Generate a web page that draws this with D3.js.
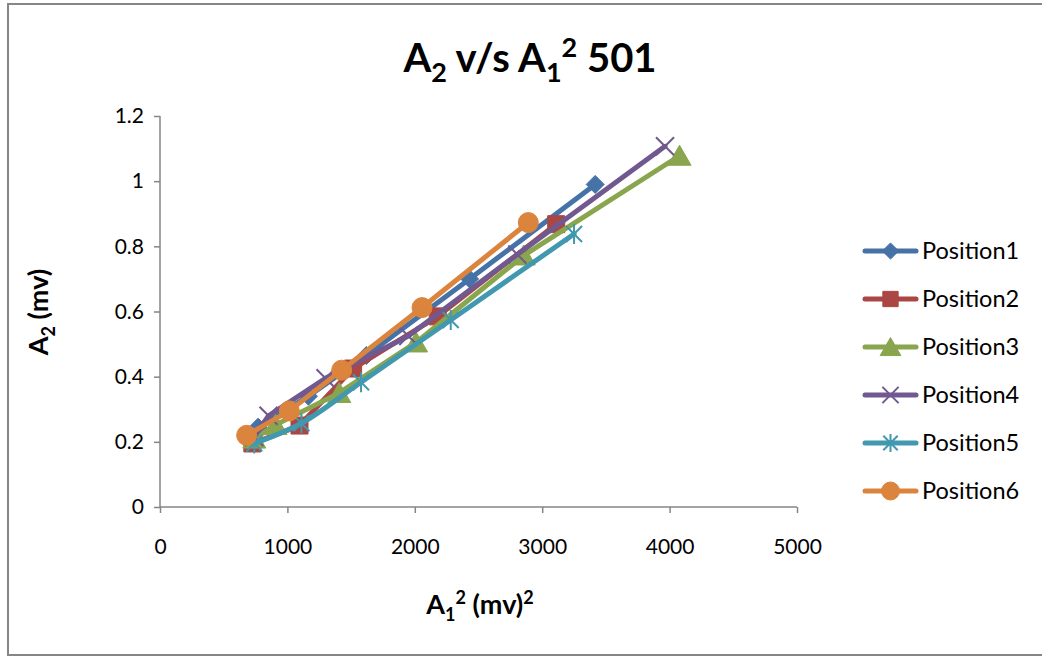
<!DOCTYPE html>
<html><head><meta charset="utf-8">
<script src="https://cdn.jsdelivr.net/npm/d3@7"></script>
<style>html,body{margin:0;padding:0;background:#fff;overflow:hidden}</style>
</head><body>
<svg id="c" width="1042" height="656"></svg>
<script>
const seriesNames = ["Position1","Position2","Position3","Position4","Position5","Position6"];
const p1x = [770, 1165, 1620, 2430, 3416];
const p1y = [0.245, 0.34, 0.465, 0.70, 0.99];
const p2x = [725, 1095, 1516, 2180, 3110];
const p2y = [0.195, 0.25, 0.425, 0.585, 0.868];
const p3x = [740, 907, 1407, 2010, 2855, 4078];
const p3y = [0.21, 0.252, 0.35, 0.505, 0.772, 1.078];
const p4x = [740, 852, 1299, 1949, 2805, 3964];
const p4y = [0.215, 0.28, 0.395, 0.525, 0.775, 1.107];
const p5x = [740, 1110, 1578, 2282, 3250];
const p5y = [0.195, 0.257, 0.383, 0.574, 0.838];
const p6x = [680, 1015, 1426, 2057, 2891];
const p6y = [0.22, 0.295, 0.42, 0.612, 0.873];
const xTicks = [0, 1000, 2000, 3000, 4000, 5000];
const yTicks = [0, 0.2, 0.4, 0.6, 0.8, 1, 1.2];

const colors = ["#4572A7","#AA4643","#89A54E","#71588F","#4198AF","#DB843D"];
const markers = ["diamond","square","triangle","x","asterisk","circle"];
const xs = [p1x,p2x,p3x,p4x,p5x,p6x], ys = [p1y,p2y,p3y,p4y,p5y,p6y];
const series = seriesNames.map((n,i)=>({name:n, color:colors[i], marker:markers[i],
  pts: xs[i].map((x,j)=>({x, y: ys[i][j]})), smooth: i===4}));

const svg = d3.select("#c");
const FONT = "Lato, 'Open Sans', sans-serif";
const axisColor = "#868686";

// outer border
svg.append("rect").attr("x",8).attr("y",4).attr("width",1100).attr("height",651)
  .attr("fill","none").attr("stroke",axisColor).attr("stroke-width",2);

const x = d3.scaleLinear().domain([0,5000]).range([160,797]);
const y = d3.scaleLinear().domain([0,1.2]).range([507,116]);

// axes
const xAxis = svg.append("g").attr("transform","translate(0,507)")
  .call(d3.axisBottom(x).tickValues(xTicks).tickSize(6).tickPadding(26).tickFormat(d3.format("d")));
const yAxis = svg.append("g").attr("transform","translate(160,0)")
  .call(d3.axisLeft(y).tickValues(yTicks).tickSize(6).tickPadding(10).tickFormat(d=>String(d)));
[xAxis,yAxis].forEach(g=>{
  g.select(".domain").attr("stroke",axisColor).attr("stroke-width",1.5);
  g.selectAll(".tick line").attr("stroke",axisColor).attr("stroke-width",1.5);
  g.selectAll(".tick text").attr("fill","#000").style("font-family",FONT).style("font-size","21px");
});
yAxis.select(".domain").attr("d","M0,116V507");
xAxis.select(".domain").attr("d","M160,0H797");

function markerPath(type, s){
  const p = d3.path();
  if(type==="diamond"){ p.moveTo(0,-s); p.lineTo(s,0); p.lineTo(0,s); p.lineTo(-s,0); p.closePath(); }
  else if(type==="square"){ p.rect(-s,-s,2*s,2*s); }
  else if(type==="triangle"){ p.moveTo(0,-s*1.05); p.lineTo(s*1.15,s*0.95); p.lineTo(-s*1.15,s*0.95); p.closePath(); }
  else if(type==="circle"){ p.arc(0,0,s,0,2*Math.PI); }
  else if(type==="x"){ p.moveTo(-s,-s); p.lineTo(s,s); p.moveTo(s,-s); p.lineTo(-s,s); }
  else if(type==="asterisk"){ p.moveTo(-s*0.8,-s*0.8); p.lineTo(s*0.8,s*0.8); p.moveTo(s*0.8,-s*0.8); p.lineTo(-s*0.8,s*0.8); p.moveTo(0,-s); p.lineTo(0,s); }
  return p.toString();
}
const mSize = {diamond:9, square:8.5, triangle:10, circle:10, x:9, asterisk:10};
function drawMarker(g, type, color, cx, cy, scale){
  const s = mSize[type]*(scale||1);
  const open = (type==="x"||type==="asterisk");
  g.append("path").attr("d",markerPath(type,s)).attr("transform",`translate(${cx},${cy})`)
    .attr("fill", open?"none":color).attr("stroke",color).attr("stroke-width",open?2:1);
}

const plot = svg.append("g");
series.forEach(s=>{
  const line = d3.line().x(d=>x(d.x)).y(d=>y(d.y))
    .curve(s.smooth ? d3.curveCatmullRom.alpha(0.5) : d3.curveLinear);
  const g = plot.append("g");
  g.append("path").attr("d",line(s.pts)).attr("fill","none").attr("stroke",s.color)
    .attr("stroke-width",5).attr("stroke-linejoin","round").attr("stroke-linecap","round");
  s.pts.forEach(d=>drawMarker(g, s.marker, s.color, x(d.x), y(d.y)));
});

// legend
const leg = svg.append("g");
series.forEach((s,i)=>{
  const cy = 251 + i*48;
  leg.append("line").attr("x1",865).attr("x2",916).attr("y1",cy).attr("y2",cy)
    .attr("stroke",s.color).attr("stroke-width",5).attr("stroke-linecap","round");
  drawMarker(leg, s.marker, s.color, 890.5, cy, 0.9);
  leg.append("text").attr("x",922).attr("y",cy).attr("dy","0.36em")
    .style("font-family",FONT).style("font-size","23.5px").attr("fill","#000").text(s.name);
});

// title
const t = svg.append("text").attr("x",530).attr("y",72).attr("text-anchor","middle")
  .style("font-family",FONT).style("font-size","40px").style("font-weight","bold").attr("fill","#000");
t.append("tspan").text("A");
t.append("tspan").attr("dy",10).style("font-size","27px").text("2");
t.append("tspan").attr("dy",-10).text(" v/s A");
t.append("tspan").attr("dy",10).style("font-size","27px").text("1");
t.append("tspan").attr("dy",-25).style("font-size","27px").text("2");
t.append("tspan").attr("dy",15).text(" 501");

// x axis title
const xt = svg.append("text").attr("x",480).attr("y",614).attr("text-anchor","middle")
  .style("font-family",FONT).style("font-size","27px").style("font-weight","bold").attr("fill","#000");
xt.append("tspan").text("A");
xt.append("tspan").attr("dy",7).style("font-size","18px").text("1");
xt.append("tspan").attr("dy",-17).style("font-size","18px").text("2");
xt.append("tspan").attr("dy",10).text(" (mv)");
xt.append("tspan").attr("dy",-10).style("font-size","18px").text("2");

// y axis title
const yt = svg.append("text").attr("transform","translate(48,312) rotate(-90)").attr("text-anchor","middle")
  .style("font-family",FONT).style("font-size","27px").style("font-weight","bold").attr("fill","#000");
yt.append("tspan").text("A");
yt.append("tspan").attr("dy",7).style("font-size","18px").text("2");
yt.append("tspan").attr("dy",-7).text(" (mv)");
</script>
</body></html>
